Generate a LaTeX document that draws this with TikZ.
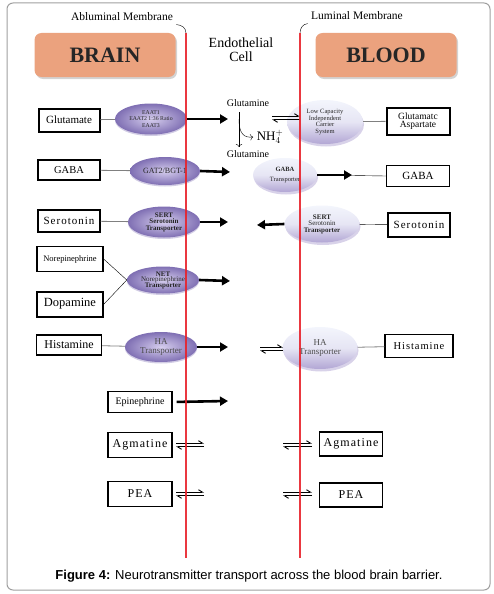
\documentclass[tikz,border=0pt]{standalone}
\usepackage{fontspec}
\setmainfont{Liberation Serif}
\newfontfamily\capfont{Liberation Sans}
\usepackage{tikz}
\usetikzlibrary{shapes.geometric,arrows.meta,shadows}

\definecolor{salmon}{HTML}{EBA27E}
\definecolor{pumpin}{HTML}{D6CEEE}
\definecolor{pumpout}{HTML}{7F6FB3}
\definecolor{bluetop}{HTML}{F3F5FC}
\definecolor{bluebot}{HTML}{B2A6D4}
\definecolor{membred}{HTML}{E8222B}

\tikzset{
  fs/.style={font=\fontsize{#1}{#1}\selectfont},
  wide/.style={font=\fontsize{#1}{#1}\selectfont\addfontfeature{LetterSpace=9}},
  sbox/.style={draw, line width=1.3pt, fill=white, inner sep=1pt, align=center},
  tbox/.style={sbox, line width=2pt},
  region/.style={fill=salmon, rounded corners=7pt, minimum width=141pt, minimum height=44pt,
    font=\fontsize{22}{22}\selectfont\bfseries, text=black!85,
    drop shadow={opacity=0.35, shadow xshift=1.5pt, shadow yshift=-2pt}},
  lpump/.style={ellipse, inner sep=0pt, align=center, shading=radial,
    inner color=pumpin, outer color=pumpout, text=black!85,
    drop shadow={fill=pumpout, opacity=0.35, shadow xshift=0pt, shadow yshift=-1.5pt}},
  rpump/.style={ellipse, inner sep=0pt, align=center, top color=bluetop,
    bottom color=bluebot, middle color=bluetop!80!bluebot, text=black!85,
    drop shadow={fill=bluebot, opacity=0.5, shadow xshift=1pt, shadow yshift=-2.5pt}},
  link/.style={draw=gray, line width=0.8pt},
  bigarrow/.style={line width=2.6pt, -{Triangle[length=8pt,width=9pt]}},
  eq/.style={line width=0.9pt, -{Straight Barb[harpoon,length=4pt,width=5pt]}},
  membrane/.style={draw=membred, line width=1.8pt, opacity=0.9},
}

\begin{document}
\begin{tikzpicture}[x=1pt,y=-1pt]
% Transport across the blood brain barrier
\useasboundingbox (0,0) rectangle (493,594);
\draw[gray!75, line width=1pt, rounded corners=6pt] (7,3) rectangle (490,590);

% headings
\node[fs=11.5] (ablabel) at (122,17) {Abluminal Membrane};
\node[fs=11.5] (lulabel) at (357,16) {Luminal Membrane};
\node[region] (brain) at (105,55) {BRAIN};
\node[region] (blood) at (386,55) {BLOOD};
\node[fs=14, align=center] (endo) at (241,50) {Endothelial\\Cell};

% glutamate
\node[tbox, fs=11, minimum width=61pt, minimum height=23pt] (glu) at (69,120) {Glutamate};
\node[lpump, fs=5.8, minimum width=72pt, minimum height=31pt] (eaat) at (151,119)
  {EAAT1\\[0.5pt]EAAT2 1:36 Ratio\\[0.5pt]EAAT3};
\node[rpump, fs=6.5, minimum width=76pt, minimum height=44pt] (lcis) at (325,122)
  {Low Capacity\\Independent\\Carrier\\System};
\node[tbox, fs=9.5, minimum width=63pt, minimum height=27pt] (gluasp) at (418,121)
  {Glutamatc\\[-1pt]Aspartate};
\node[fs=10] (gln1) at (248,103) {Glutamine};
\node[fs=10] (gln2) at (248,154) {Glutamine};
\node[fs=13] (nh4) at (270,137) {NH$_4^+$};
\coordinate (glnin) at (228,119);
\coordinate (split) at (239,112);
\coordinate (splitend) at (239,147);
\coordinate (bend) at (239,119);
\draw[link] (glu) -- (eaat);
\draw[link] (lcis) -- (gluasp);
\draw[bigarrow] (eaat.east) -- (glnin);
\draw[thin, -{To[length=3pt]}] (split) -- (splitend);
\draw[thin, -{To[length=3pt]}] (bend) .. controls (239,134) and (244,138) .. (nh4.west);

% GABA
\node[sbox, fs=10.5, minimum width=62pt, minimum height=20pt] (gaba1) at (69,170) {GABA};
\node[lpump, fs=8, minimum width=70pt, minimum height=28pt] (gat) at (165,171) {GAT2/BGT-1};
\node[rpump, fs=6.5, minimum width=64pt, minimum height=34pt] (gabat) at (285,175)
  {\textbf{GABA}\\[4pt]Transporter};
\node[sbox, fs=11, minimum width=63pt, minimum height=21pt] (gaba2) at (418,176) {GABA};
\coordinate (gabain) at (230,172);
\coordinate (gabaout) at (352,175);
\draw[link] (gaba1) -- (gat);
\draw[bigarrow] (gat.east) -- (gabain);
\draw (gabat.east) -- (gaba2.west);
\draw[bigarrow] (gabat.east) -- (gabaout);

% serotonin
\node[sbox, wide=11, minimum width=62pt, minimum height=22pt] (ser1) at (69,221) {Serotonin};
\node[lpump, fs=7, minimum width=72pt, minimum height=31pt] (sert1) at (164,222)
  {\textbf{SERT}\\[-0.5pt]\textbf{Serotonin}\\[-0.5pt]\textbf{Transporter}};
\node[rpump, fs=7, minimum width=75pt, minimum height=37pt] (sert2) at (322,224)
  {\textbf{SERT}\\[-0.5pt]Serotonin\\[-0.5pt]\textbf{Transporter}};
\node[sbox, wide=11, minimum width=62pt, minimum height=24pt] (ser2) at (419,225) {Serotonin};
\coordinate (serin) at (228,222);
\coordinate (serout) at (257,225);
\draw[link] (ser1) -- (sert1);
\draw[bigarrow] (sert1.east) -- (serin);
\draw (sert2) -- (ser2);
\draw[bigarrow] (sert2.west) -- (serout);

% norepinephrine, dopamine
\node[sbox, fs=8.5, minimum width=66pt, minimum height=25pt] (nor) at (70,259) {Norepinephrine};
\node[tbox, fs=12.5, minimum width=66pt, minimum height=25pt] (dop) at (70,304) {Dopamine};
\node[lpump, fs=7, minimum width=72pt, minimum height=27pt] (net) at (163,280)
  {\textbf{NET}\\[-1.5pt]Norepinephrine\\[-1.5pt]\textbf{Transporter}};
\coordinate (netin) at (230,281);
\draw (nor.east) -- (net.west);
\draw (dop.east) -- (net.west);
\draw[bigarrow] (net.east) -- (netin);

% histamine
\node[sbox, fs=12, minimum width=65pt, minimum height=20pt] (his1) at (69,345) {Histamine};
\node[lpump, fs=9, minimum width=72pt, minimum height=30pt, text=black!70] (ha1) at (161,347)
  {HA\\Transporter};
\node[rpump, fs=9, minimum width=75pt, minimum height=42pt, text=black!70] (ha2) at (320,348)
  {HA\\Transporter};
\node[sbox, wide=10.5, minimum width=68pt, minimum height=23pt] (his2) at (419,346) {Histamine};
\coordinate (hisin) at (228,347);
\draw[link] (his1) -- (ha1);
\draw[bigarrow] (ha1.east) -- (hisin);
\draw[link] (ha2) -- (his2);

% epinephrine, agmatine, PEA
\node[sbox, fs=10, minimum width=64pt, minimum height=21pt] (epi) at (140,402) {Epinephrine};
\node[sbox, wide=12, minimum width=64pt, minimum height=25pt] (agm1) at (140,445) {Agmatine};
\node[sbox, wide=12, minimum width=63pt, minimum height=24pt] (agm2) at (351,444) {Agmatine};
\node[sbox, wide=12, minimum width=64pt, minimum height=25pt] (pea1) at (140,494) {PEA};
\node[sbox, wide=12, minimum width=63pt, minimum height=24pt] (pea2) at (351,495) {PEA};
\coordinate (epiin) at (228,401);
\draw[bigarrow, shorten <=4pt] (epi.east) -- (epiin);

% reversible exchange
\foreach \xa/\xb/\y in {272/300/118, 260/283/349, 176/204/445, 283/312/445, 176/204/494, 283/312/494}{
  \draw[eq] (\xa,\y-1.8) -- (\xb,\y-1.8);
  \draw[eq] (\xb,\y+1.8) -- (\xa,\y+1.8);
}

% membranes
\coordinate (abtop) at (186,33);
\coordinate (abbot) at (186,558);
\coordinate (lutop) at (300,33);
\coordinate (lubot) at (300,558);
\draw[membrane] (abtop) -- (abbot);
\draw[membrane] (lutop) -- (lubot);
\draw[thin] (ablabel.south east) .. controls (182,25) and (186,28) .. (abtop);
\draw[thin] (lutop) .. controls (300,28) and (303,24) .. (lulabel.south west);

% caption
\node[font=\capfont\fontsize{13}{13}\selectfont] (cap) at (249,576)
  {\textbf{Figure 4:} Neurotransmitter transport across the blood brain barrier.};
\end{tikzpicture}
\end{document}
